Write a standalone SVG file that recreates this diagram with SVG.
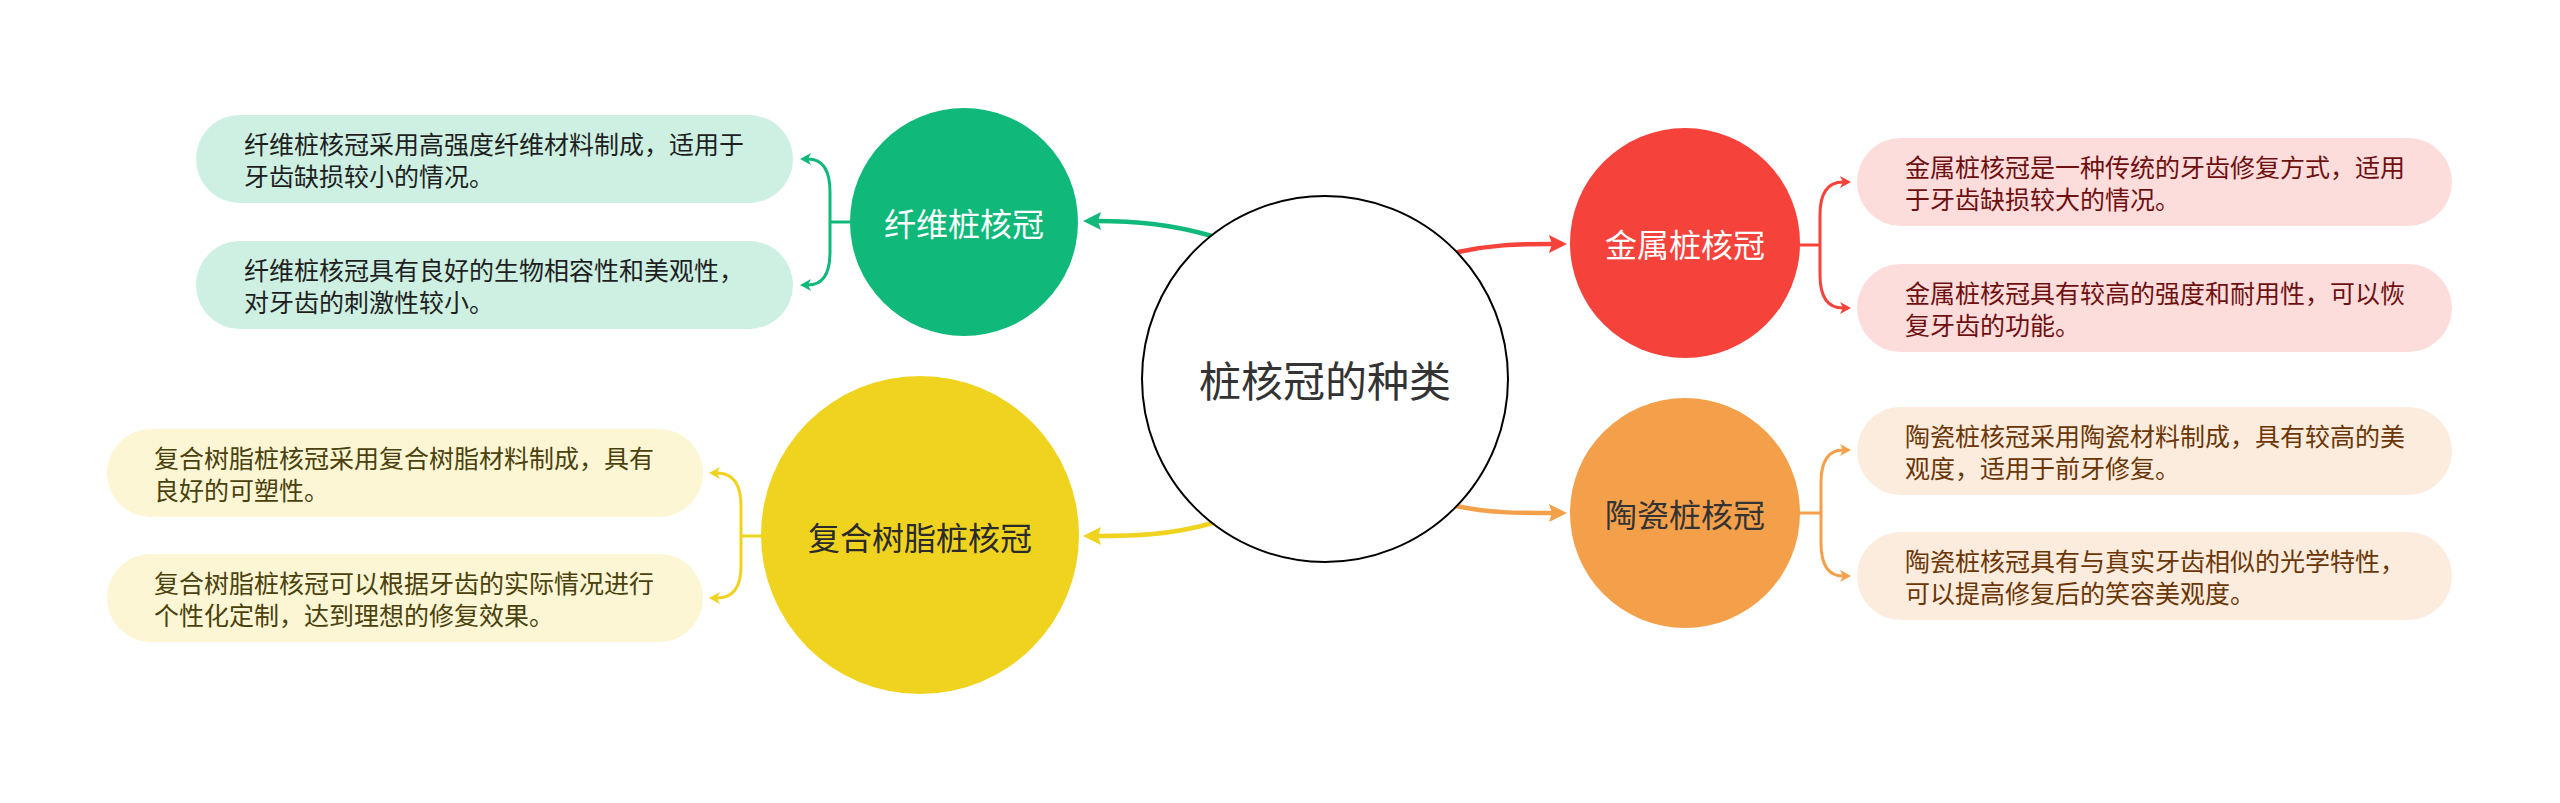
<svg xmlns="http://www.w3.org/2000/svg" width="2560" height="803" viewBox="0 0 2560 803">
<style>
text{font-family:"Noto Sans CJK SC","Noto Sans",sans-serif}
.ctitle{font-size:42px;fill:#333333}
.ntitle{font-size:32px}
.desc{font-size:25px}
.main{fill:none;stroke-width:4.5;stroke-linecap:round}
.br{fill:none;stroke-width:3}
</style>
<defs>
<marker id="mG" markerUnits="userSpaceOnUse" markerWidth="20" markerHeight="20" refX="4" refY="9" orient="auto"><path d="M0,0 L18,9 L0,18 L3,9 z" fill="#10b97a"/></marker>
<marker id="mR" markerUnits="userSpaceOnUse" markerWidth="20" markerHeight="20" refX="4" refY="9" orient="auto"><path d="M0,0 L18,9 L0,18 L3,9 z" fill="#f5423b"/></marker>
<marker id="mO" markerUnits="userSpaceOnUse" markerWidth="20" markerHeight="20" refX="4" refY="9" orient="auto"><path d="M0,0 L18,9 L0,18 L3,9 z" fill="#f4a04b"/></marker>
<marker id="mY" markerUnits="userSpaceOnUse" markerWidth="20" markerHeight="20" refX="4" refY="9" orient="auto"><path d="M0,0 L18,9 L0,18 L3,9 z" fill="#f0d31f"/></marker>
<marker id="sG" markerUnits="userSpaceOnUse" markerWidth="14" markerHeight="14" refX="3" refY="6" orient="auto"><path d="M0,0 L11,6 L0,12 L3,6 z" fill="#10b97a"/></marker>
<marker id="sR" markerUnits="userSpaceOnUse" markerWidth="14" markerHeight="14" refX="3" refY="6" orient="auto"><path d="M0,0 L11,6 L0,12 L3,6 z" fill="#f5423b"/></marker>
<marker id="sO" markerUnits="userSpaceOnUse" markerWidth="14" markerHeight="14" refX="3" refY="6" orient="auto"><path d="M0,0 L11,6 L0,12 L3,6 z" fill="#f4a04b"/></marker>
<marker id="sY" markerUnits="userSpaceOnUse" markerWidth="14" markerHeight="14" refX="3" refY="6" orient="auto"><path d="M0,0 L11,6 L0,12 L3,6 z" fill="#f0d31f"/></marker>
</defs>
<rect width="2560" height="803" fill="#ffffff"/>

<g id="connectors">
<path class="main" stroke="#10b97a" d="M1212,236 C1170,224 1135,221 1097,221" marker-end="url(#mG)"/>
<path class="main" stroke="#f5423b" d="M1458,252 C1490,245 1515,244 1553,244" marker-end="url(#mR)"/>
<path class="main" stroke="#f4a04b" d="M1456,506 C1490,513 1515,513 1553,513" marker-end="url(#mO)"/>
<path class="main" stroke="#f0d31f" d="M1213,523 C1170,535 1135,536 1097,536" marker-end="url(#mY)"/>

<path class="br" stroke="#10b97a" d="M850,222 H830"/>
<path class="br" stroke="#10b97a" d="M830,222 V192 Q830,159 808,159" marker-end="url(#sG)"/>
<path class="br" stroke="#10b97a" d="M830,222 V252 Q830,285 808,285" marker-end="url(#sG)"/>

<path class="br" stroke="#f5423b" d="M1799,245 H1820"/>
<path class="br" stroke="#f5423b" d="M1820,245 V215 Q1820,182 1843,182" marker-end="url(#sR)"/>
<path class="br" stroke="#f5423b" d="M1820,245 V275 Q1820,308 1843,308" marker-end="url(#sR)"/>

<path class="br" stroke="#f4a04b" d="M1799,513 H1821"/>
<path class="br" stroke="#f4a04b" d="M1821,513 V483 Q1821,450 1843,450" marker-end="url(#sO)"/>
<path class="br" stroke="#f4a04b" d="M1821,513 V543 Q1821,576 1843,576" marker-end="url(#sO)"/>

<path class="br" stroke="#f0d31f" d="M762,536 H741"/>
<path class="br" stroke="#f0d31f" d="M741,536 V506 Q741,473 717,473" marker-end="url(#sY)"/>
<path class="br" stroke="#f0d31f" d="M741,536 V566 Q741,598 717,598" marker-end="url(#sY)"/>
</g>

<g id="center">
<circle cx="1325" cy="379" r="183" fill="#ffffff" stroke="#000000" stroke-width="2"/>
<text class="ctitle" x="1325" y="378" text-anchor="middle" dominant-baseline="central">桩核冠的种类</text>
</g>

<g id="fiber">
<circle cx="964" cy="222" r="114" fill="#10b97a"/>
<text class="ntitle" x="964" y="222" text-anchor="middle" dominant-baseline="central" fill="#ffffff">纤维桩核冠</text>
</g>
<g id="fiber-1">
<rect x="196" y="115" width="597" height="88" rx="44" fill="#cdf0e2"/>
<text class="desc" fill="#1f1f1f" dominant-baseline="central"><tspan x="244" y="143">纤维桩核冠采用高强度纤维材料制成，适用于</tspan><tspan x="244" y="175">牙齿缺损较小的情况。</tspan></text>
</g>
<g id="fiber-2">
<rect x="196" y="241" width="597" height="88" rx="44" fill="#cdf0e2"/>
<text class="desc" fill="#1f1f1f" dominant-baseline="central"><tspan x="244" y="269">纤维桩核冠具有良好的生物相容性和美观性，</tspan><tspan x="244" y="301">对牙齿的刺激性较小。</tspan></text>
</g>

<g id="metal">
<circle cx="1685" cy="243" r="115" fill="#f5423b"/>
<text class="ntitle" x="1685" y="243" text-anchor="middle" dominant-baseline="central" fill="#ffffff">金属桩核冠</text>
</g>
<g id="metal-1">
<rect x="1857" y="138" width="595" height="88" rx="44" fill="#fddcdc"/>
<text class="desc" fill="#6e1010" dominant-baseline="central"><tspan x="1905" y="166">金属桩核冠是一种传统的牙齿修复方式，适用</tspan><tspan x="1905" y="198">于牙齿缺损较大的情况。</tspan></text>
</g>
<g id="metal-2">
<rect x="1857" y="264" width="595" height="88" rx="44" fill="#fddcdc"/>
<text class="desc" fill="#6e1010" dominant-baseline="central"><tspan x="1905" y="292">金属桩核冠具有较高的强度和耐用性，可以恢</tspan><tspan x="1905" y="324">复牙齿的功能。</tspan></text>
</g>

<g id="ceramic">
<circle cx="1685" cy="513" r="115" fill="#f4a04b"/>
<text class="ntitle" x="1685" y="513" text-anchor="middle" dominant-baseline="central" fill="#333333">陶瓷桩核冠</text>
</g>
<g id="ceramic-1">
<rect x="1857" y="407" width="595" height="88" rx="44" fill="#fcecdd"/>
<text class="desc" fill="#6b3606" dominant-baseline="central"><tspan x="1905" y="435">陶瓷桩核冠采用陶瓷材料制成，具有较高的美</tspan><tspan x="1905" y="467">观度，适用于前牙修复。</tspan></text>
</g>
<g id="ceramic-2">
<rect x="1857" y="532" width="595" height="88" rx="44" fill="#fcecdd"/>
<text class="desc" fill="#6b3606" dominant-baseline="central"><tspan x="1905" y="560">陶瓷桩核冠具有与真实牙齿相似的光学特性，</tspan><tspan x="1905" y="592">可以提高修复后的笑容美观度。</tspan></text>
</g>

<g id="resin">
<circle cx="920" cy="535" r="159" fill="#f0d31f"/>
<text class="ntitle" x="920" y="536" text-anchor="middle" dominant-baseline="central" fill="#2a2a2a">复合树脂桩核冠</text>
</g>
<g id="resin-1">
<rect x="107" y="429" width="596" height="88" rx="44" fill="#fcf6d4"/>
<text class="desc" fill="#4a410c" dominant-baseline="central"><tspan x="154" y="457">复合树脂桩核冠采用复合树脂材料制成，具有</tspan><tspan x="154" y="489">良好的可塑性。</tspan></text>
</g>
<g id="resin-2">
<rect x="107" y="554" width="596" height="88" rx="44" fill="#fcf6d4"/>
<text class="desc" fill="#4a410c" dominant-baseline="central"><tspan x="154" y="582">复合树脂桩核冠可以根据牙齿的实际情况进行</tspan><tspan x="154" y="614">个性化定制，达到理想的修复效果。</tspan></text>
</g>
</svg>
